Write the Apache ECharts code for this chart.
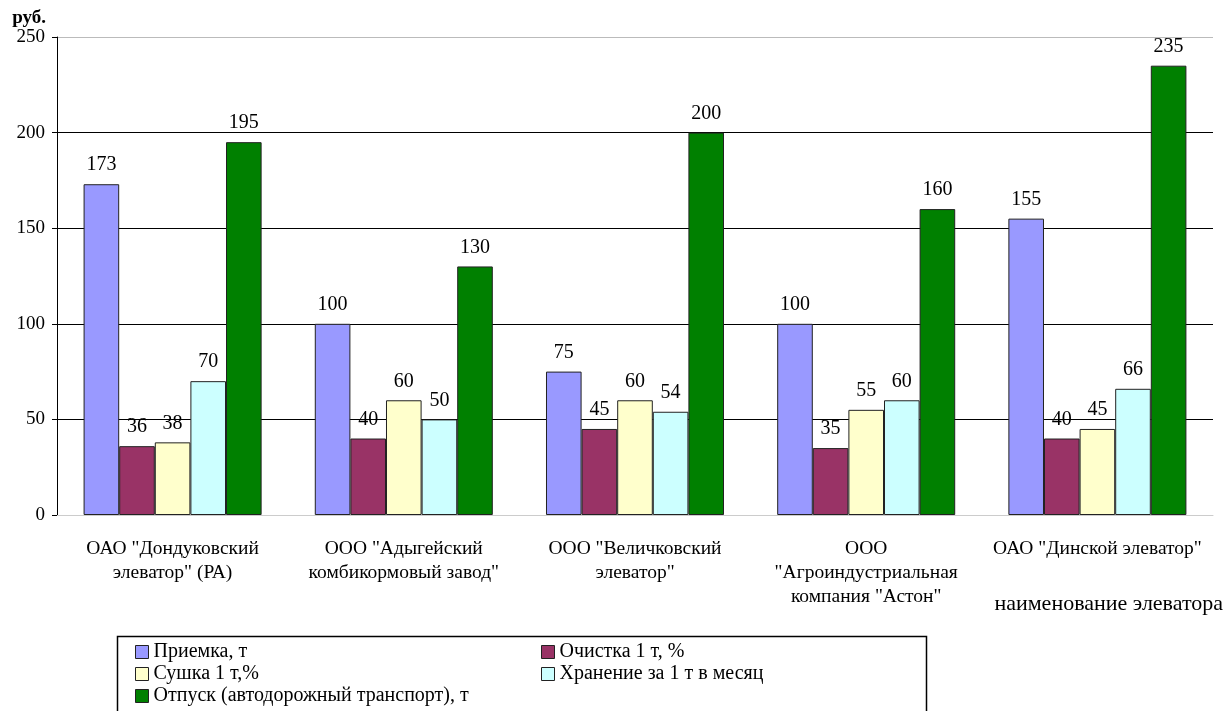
<!DOCTYPE html>
<html>
<head>
<meta charset="utf-8">
<script src="https://cdn.jsdelivr.net/npm/echarts@6/dist/echarts.min.js"></script>
<style>html,body{margin:0;padding:0;background:#fff}#c{width:1226px;height:711px}</style>
</head>
<body>
<div id="c"></div>
<script>
var categories = [
  'ОАО "Дондуковский\nэлеватор" (РА)',
  'ООО "Адыгейский\nкомбикормовый завод"',
  'ООО "Величковский\nэлеватор"',
  'ООО\n"Агроиндустриальная\nкомпания "Астон"',
  'ОАО "Динской элеватор"'
];
var seriesNames = ['Приемка, т', 'Очистка 1 т, %', 'Сушка 1 т,%', 'Хранение за 1 т в месяц', 'Отпуск (автодорожный транспорт), т'];
var priemka = [173, 100, 75, 100, 155];
var ochistka = [36, 40, 45, 35, 40];
var sushka = [38, 60, 60, 55, 45];
var hranenie = [70, 50, 54, 60, 66];
var otpusk = [195, 130, 200, 160, 235];
var colors = ['#9999FF', '#993366', '#FFFFCC', '#CCFFFF', '#008000'];
var yTicks = [0, 50, 100, 150, 200, 250];

var FONT = 'Liberation Serif, Times New Roman, serif';
var values = [priemka, ochistka, sushka, hranenie, otpusk];

var chart = echarts.init(document.getElementById('c'));
var series = seriesNames.map(function (n, i) {
  return {
    name: n,
    type: 'bar',
    data: values[i],
    barGap: '0%',
    barCategoryGap: '23%',
    itemStyle: { color: colors[i], borderColor: '#222', borderWidth: 1 },
    label: { show: true, position: 'top', distance: 9, color: '#000', fontFamily: FONT, fontSize: 20 },
    emphasis: { disabled: true }
  };
});

var legendCommon = {
  orient: 'vertical', top: 642, padding: 0, itemGap: 2,
  itemWidth: 13, itemHeight: 13, icon: 'rect',
  itemStyle: { borderColor: '#222', borderWidth: 1 },
  textStyle: { fontFamily: FONT, fontSize: 20, color: '#000', lineHeight: 20 },
  selectedMode: false
};

chart.setOption({
  animation: false,
  textStyle: { fontFamily: FONT, color: '#000' },
  grid: { left: 57, right: 11, top: 37, bottom: 196 },
  xAxis: {
    type: 'category',
    data: categories,
    name: 'наименование элеватора',
    nameLocation: 'end',
    nameGap: 10,
    nameTextStyle: { fontFamily: FONT, fontSize: 22, color: '#000', align: 'right', verticalAlign: 'top', padding: [78, 0, 0, 0] },
    axisLine: { lineStyle: { color: '#cccccc', width: 1 } },
    axisTick: { show: false },
    axisLabel: { interval: 0, margin: 22, fontFamily: FONT, fontSize: 19.5, lineHeight: 24, color: '#000' },
    splitLine: { show: false }
  },
  yAxis: {
    type: 'value',
    min: yTicks[0],
    max: yTicks[yTicks.length - 1],
    interval: 50,
    name: 'руб.',
    nameLocation: 'end',
    nameGap: 1,
    nameTextStyle: { fontFamily: FONT, fontSize: 19, fontWeight: 'bold', color: '#000', align: 'right', padding: [0, 11, 0, 0] },
    axisLine: { show: true, lineStyle: { color: '#000', width: 1 } },
    axisTick: { show: true, length: 5, lineStyle: { color: '#000' } },
    axisLabel: { fontFamily: FONT, fontSize: 19, color: '#000', margin: 12 },
    splitLine: { show: true, lineStyle: { color: ['#cccccc', '#000', '#000', '#000', '#000', '#bbbbbb'], width: 1 } }
  },
  legend: [
    Object.assign({ data: [seriesNames[0], seriesNames[2], seriesNames[4]], left: 135 }, legendCommon),
    Object.assign({ data: [seriesNames[1], seriesNames[3]], left: 541 }, legendCommon)
  ],
  graphic: [
    { type: 'rect', left: 115, top: 634, shape: { width: 809, height: 100 }, style: { fill: 'none', stroke: '#000', lineWidth: 1.5 }, silent: true }
  ],
  series: series
});
</script>
</body>
</html>
